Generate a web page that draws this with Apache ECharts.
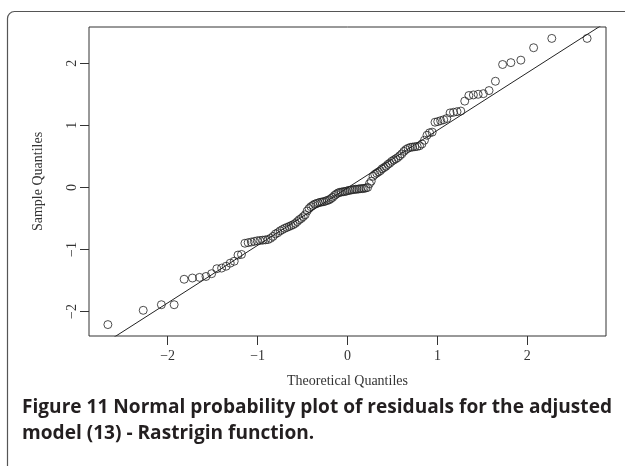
<!DOCTYPE html>
<html>
<head>
<meta charset="utf-8">
<script src="https://cdn.jsdelivr.net/npm/echarts@6/dist/echarts.min.js"></script>
<style>
html,body{margin:0;padding:0;background:#fff;}
#chart{width:625px;height:466px;}
</style>
</head>
<body>
<div id="chart"></div>
<script>
// Theoretical quantiles (n = 130), read positions along the x axis
var theoretical = [
-2.665,-2.272,-2.070,-1.928,-1.817,-1.725,-1.645,-1.574,-1.511,-1.453,
-1.400,-1.350,-1.304,-1.260,-1.218,-1.179,-1.141,-1.105,-1.070,-1.036,
-1.004,-0.973,-0.942,-0.913,-0.884,-0.856,-0.828,-0.801,-0.775,-0.749,
-0.724,-0.699,-0.674,-0.650,-0.627,-0.604,-0.581,-0.558,-0.536,-0.514,
-0.492,-0.470,-0.449,-0.428,-0.407,-0.385,-0.366,-0.345,-0.325,-0.304,
-0.284,-0.264,-0.244,-0.224,-0.204,-0.184,-0.165,-0.145,-0.126,-0.106,
-0.087,-0.068,-0.048,-0.029,-0.010,
0.010,0.029,0.048,0.068,0.087,0.106,0.126,0.145,0.165,0.184,
0.204,0.224,0.244,0.264,0.284,0.304,0.325,0.345,0.366,0.385,
0.407,0.428,0.449,0.470,0.492,0.514,0.536,0.558,0.581,0.604,
0.627,0.650,0.674,0.699,0.724,0.749,0.775,0.801,0.828,0.856,
0.884,0.913,0.942,0.973,1.004,1.036,1.070,1.105,1.141,1.179,
1.218,1.260,1.304,1.350,1.400,1.453,1.511,1.574,1.645,1.725,
1.817,1.928,2.070,2.272,2.665
];
// Sample quantiles (sorted residuals)
var sample = [
-2.21,-1.98,-1.89,-1.89,-1.48,-1.46,-1.45,-1.435,-1.39,-1.31,
-1.30,-1.27,-1.22,-1.19,-1.09,-1.08,-0.90,-0.89,-0.88,-0.87,
-0.86,-0.855,-0.85,-0.845,-0.84,-0.82,-0.79,-0.75,-0.73,-0.70,
-0.68,-0.66,-0.645,-0.63,-0.615,-0.60,-0.58,-0.55,-0.52,-0.50,
-0.47,-0.44,-0.38,-0.34,-0.31,-0.29,-0.27,-0.26,-0.25,-0.24,
-0.235,-0.23,-0.22,-0.21,-0.20,-0.18,-0.16,-0.13,-0.11,-0.09,
-0.08,-0.075,-0.07,-0.065,-0.06,
-0.05,-0.045,-0.04,-0.035,-0.03,-0.03,-0.025,-0.02,-0.02,-0.015,
-0.01,0.00,0.06,0.10,0.18,0.21,0.23,0.25,0.27,0.30,
0.32,0.34,0.37,0.39,0.42,0.44,0.46,0.48,0.51,0.54,
0.58,0.61,0.63,0.645,0.65,0.655,0.66,0.67,0.70,0.76,
0.84,0.88,0.89,1.05,1.06,1.075,1.09,1.11,1.20,1.21,
1.22,1.23,1.39,1.48,1.49,1.50,1.51,1.56,1.71,1.98,
2.01,2.05,2.25,2.40,2.40
];
var xTicks = [-2, -1, 0, 1, 2];
var yTicks = [-2, -1, 0, 1, 2];
var qqSlope = 0.927;
var qqIntercept = -0.007;
var xRange = [-2.875, 2.875];
var yRange = [-2.394, 2.584];
var captionLines = [
  'Figure 11 Normal probability plot of residuals for the adjusted',
  'model (13) - Rastrigin function.'
];

var points = theoretical.map(function (t, i) { return [t, sample[i]]; });
var lineData = [
  [xRange[0], qqIntercept + qqSlope * xRange[0]],
  [xRange[1], qqIntercept + qqSlope * xRange[1]]
];
function fmt(v) { return v < 0 ? '\u2212' + Math.abs(v) : String(v); }

var capFont = 'bold 20px "Open Sans", "Noto Sans", sans-serif';
var cvs = document.createElement('canvas').getContext('2d');
cvs.font = capFont;
var capScale = 590 / cvs.measureText(captionLines[0]).width;

var serif = '"Liberation Serif", "DejaVu Serif", serif';
var chart = echarts.init(document.getElementById('chart'), null, {renderer: 'canvas'});
chart.setOption({
  animation: false,
  backgroundColor: '#fff',
  grid: {left: 89, top: 27, width: 517, height: 309, show: true, borderColor: '#333', borderWidth: 1, backgroundColor: 'transparent'},
  xAxis: {
    type: 'value', min: xRange[0], max: xRange[1],
    name: 'Theoretical Quantiles', nameLocation: 'middle', nameGap: 38,
    nameTextStyle: {fontFamily: serif, fontSize: 14, color: '#333'},
    axisLine: {show: false, onZero: false},
    axisTick: {show: true, length: 9, lineStyle: {color: '#333'}, customValues: xTicks},
    axisLabel: {show: true, margin: 13, fontFamily: serif, fontSize: 14, color: '#333', customValues: xTicks, formatter: fmt},
    splitLine: {show: false}
  },
  yAxis: {
    type: 'value', min: yRange[0], max: yRange[1],
    name: 'Sample Quantiles', nameLocation: 'middle', nameGap: 44,
    nameTextStyle: {fontFamily: serif, fontSize: 14, color: '#333'},
    axisLine: {show: false, onZero: false},
    axisTick: {show: true, length: 9, lineStyle: {color: '#333'}, customValues: yTicks},
    axisLabel: {show: true, margin: 10, rotate: 90, fontFamily: serif, fontSize: 14, color: '#333', customValues: yTicks, formatter: fmt},
    splitLine: {show: false}
  },
  series: [
    {
      type: 'line', data: lineData, showSymbol: false, symbol: 'none', clip: true,
      lineStyle: {color: '#222', width: 1}, silent: true, z: 1
    },
    {
      type: 'scatter', data: points, symbol: 'circle', symbolSize: 8,
      itemStyle: {color: 'rgba(0,0,0,0)', borderColor: '#222', borderWidth: 1}, z: 2
    }
  ],
  graphic: [
    {type: 'rect', shape: {x: 7.5, y: 11.5, width: 700, height: 600, r: [7, 0, 0, 0]},
     style: {fill: null, stroke: '#555', lineWidth: 1.2}, silent: true},
    {type: 'text', x: 22, y: 397, scaleX: capScale,
     style: {text: captionLines[0], font: capFont, fill: '#231f20'}},
    {type: 'text', x: 22, y: 423, scaleX: capScale,
     style: {text: captionLines[1], font: capFont, fill: '#231f20'}}
  ]
});
</script>
</body>
</html>
